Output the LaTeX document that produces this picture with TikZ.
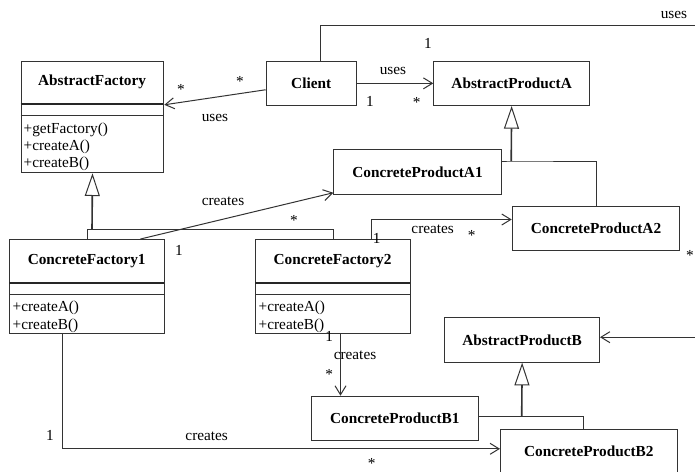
\documentclass[tikz,border=0pt]{standalone}
\usepackage{fontspec}
\setmainfont{Liberation Serif}
\usetikzlibrary{arrows.meta}
\begin{document}
\begin{tikzpicture}[x=1pt,y=-1pt,
  font=\fontsize{15.3}{17.5}\selectfont,
  ln/.style={draw=black!80, line width=1pt},
  box/.style={ln, rectangle, inner sep=0pt, anchor=north west, font=\fontsize{15.3}{17.5}\selectfont\bfseries},
  ttl/.style={inner sep=0pt, font=\fontsize{15.3}{17.5}\selectfont\bfseries},
  meth/.style={anchor=base west, inner sep=0pt},
  lbl/.style={inner sep=0pt},
  sep/.style={draw=black!85, line width=2pt},
  assoc/.style={ln, -{Straight Barb[length=9pt,width=11pt,line width=1pt]}},
  gen/.style={draw=black!80, line width=1.6pt, -{Triangle[open,length=22.7pt,width=15pt,line width=1pt,fill=white]}},
  tree/.style={ln},
]
\useasboundingbox (0,0) rectangle (695,471);
\fill[white] (0,0) rectangle (695,471);
\clip (0,0) rectangle (695,471);

% ---- classes ----
\node[box, minimum width=142.6pt, minimum height=111.6pt] (af) at (20.7,60.7) {};
\node[ttl] (afT) at (92,82.3) {AbstractFactory};
\draw[sep] (20.7,104) -- (163.3,104);
\draw[ln] (20.7,115.7) -- (163.3,115.7);
\node[meth] (afm1) at (23.5,133) {+getFactory()};
\node[meth] (afm2) at (23.5,150.5) {+createA()};
\node[meth] (afm3) at (23.5,167.8) {+createB()};

\node[box, minimum width=90pt, minimum height=44.3pt] (cl) at (265.7,60.7) {Client};
\node[box, minimum width=155.7pt, minimum height=44.3pt] (apa) at (433.3,60.7) {AbstractProductA};
\node[box, minimum width=167.4pt, minimum height=44.7pt] (cpa1) at (333.3,149.3) {ConcreteProductA1};
\node[box, minimum width=167.6pt, minimum height=44.3pt] (cpa2) at (511.7,205.7) {ConcreteProductA2};

\node[box, minimum width=155.3pt, minimum height=93.7pt] (cf1) at (9,239) {};
\node[ttl] (cf1T) at (86.7,261) {ConcreteFactory1};
\draw[sep] (9,282.7) -- (164.3,282.7);
\draw[ln] (9,294) -- (164.3,294);
\node[meth] (cf1m1) at (12.5,311.7) {+createA()};
\node[meth] (cf1m2) at (12.5,329) {+createB()};

\node[box, minimum width=155pt, minimum height=93.7pt] (cf2) at (255,239) {};
\node[ttl] (cf2T) at (332.5,261) {ConcreteFactory2};
\draw[sep] (255,282.7) -- (410,282.7);
\draw[ln] (255,294) -- (410,294);
\node[meth] (cf2m1) at (258.5,311.7) {+createA()};
\node[meth] (cf2m2) at (258.5,329) {+createB()};

\node[box, minimum width=154.7pt, minimum height=44.4pt] (apb) at (444.3,317.3) {AbstractProductB};
\node[box, minimum width=166.7pt, minimum height=44.3pt] (cpb1) at (311,395.7) {ConcreteProductB1};
\node[box, minimum width=176.7pt, minimum height=44.3pt] (cpb2) at (500,429) {ConcreteProductB2};

% ---- generalizations ----
\coordinate (afj) at (92,229.3);
\draw[tree] (cf1.north) |- (afj) -| (cf2.north);
\draw[gen] (afj) -- (af.south);

\coordinate (apaj) at (511.2,161);
\draw[tree] (cpa1.east |- apaj) -- (apaj) -| (cpa2.north);
\draw[gen] (apaj) -- (apa.south);

\coordinate (apbj) at (521.7,416.7);
\draw[tree] (cpb1.east |- apbj) -| ([xshift=-5pt]cpb2.north);
\draw[gen] (apbj) -- (apb.south);

% ---- associations ----
\draw[assoc] ([yshift=-6.4pt]cl.west) -- ([yshift=12.2pt]af.east);
\draw[assoc] (cl.east) -- (apa.west);
\draw[assoc] ([xshift=9.3pt]cl.north) |- (720,25) |- ([yshift=2.8pt]apb.east);
\draw[assoc] ([xshift=53.35pt]cf1.north) -- ([yshift=-20.6pt]cpa1.west);
\draw[assoc] ([xshift=38.5pt]cf2.north) |- ([yshift=8.85pt]cpa2.west);
\draw[assoc] ([xshift=7.5pt]cf2.south) -- ([xshift=7.5pt]cf2.south |- cpb1.north);
\draw[assoc] ([xshift=-24.95pt]cf1.south) |- ([yshift=2.85pt]cpb2.west);

% ---- labels ----
\node[lbl] (l1) at (181,89.5) {*};
\node[lbl] (l2) at (240,81.5) {*};
\node[lbl] (l3) at (215,118) {uses};
\node[lbl] (l4) at (393,70.7) {uses};
\node[lbl] (l5) at (370,101.7) {1};
\node[lbl] (l6) at (416.7,102.5) {*};
\node[lbl] (l7) at (428,43) {1};
\node[lbl] (l8) at (674,15) {uses};
\node[lbl] (l9) at (223,201.7) {creates};
\node[lbl] (l10) at (294,220.5) {*};
\node[lbl] (l11) at (179,250) {1};
\node[lbl] (l12) at (432.7,229.3) {creates};
\node[lbl] (l13) at (471.7,235.8) {*};
\node[lbl] (l14) at (376.7,238.3) {1};
\node[lbl] (l15) at (690,255.8) {*};
\node[lbl] (l16) at (329.3,336.7) {1};
\node[lbl] (l17) at (355,355) {creates};
\node[lbl] (l18) at (329.3,374.2) {*};
\node[lbl] (l19) at (50,435) {1};
\node[lbl] (l20) at (206.7,436.7) {creates};
\node[lbl] (l21) at (371.7,463) {*};
\end{tikzpicture}
\end{document}
